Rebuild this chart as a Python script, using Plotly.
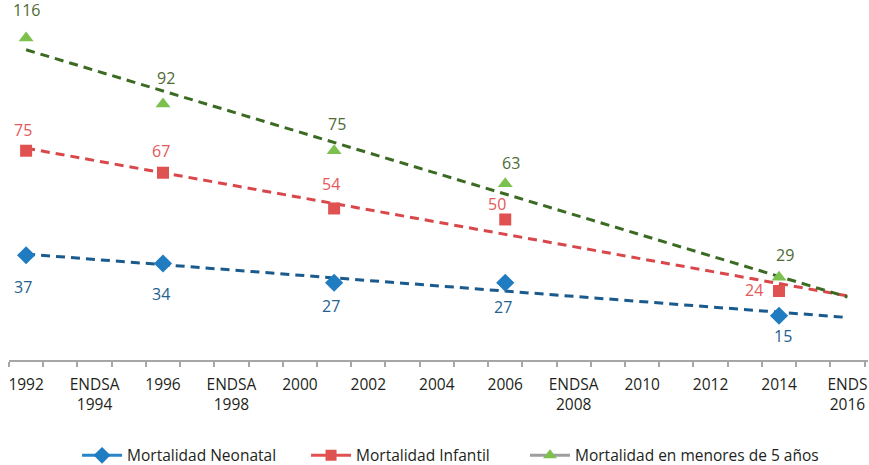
import numpy as np
import plotly.graph_objects as go

# ---- data ----
tick_years = [1992, 1994, 1996, 1998, 2000, 2002, 2004, 2006, 2008, 2010, 2012, 2014, 2016]
tick_labels = ["1992", "ENDSA<br>1994", "1996", "ENDSA<br>1998", "2000", "2002", "2004",
               "2006", "ENDSA<br>2008", "2010", "2012", "2014", "ENDS<br>2016"]
survey_years = [1992, 1996, 2001, 2006, 2014]
neonatal = [37, 34, 27, 27, 15]
infantil = [75, 67, 54, 50, 24]
menores5 = [116, 92, 75, 63, 29]
series_names = ["Mortalidad Neonatal", "Mortalidad Infantil", "Mortalidad en menores de 5 años"]

# ---- styles ----
FONT = "Open Sans, Noto Sans, sans-serif"
marker_cols = ["#1f7cc1", "#e05252", "#7cc04e"]
trend_cols = ["#1b5a8c", "#d9474b", "#3b6a22"]
label_cols = ["#245f8f", "#e5585a", "#4d6b33"]
legend_line_cols = ["#2a85c8", "#e05252", "#9e9e9e"]
symbols = ["diamond", "square", "triangle-up"]
sizes = [14, 12, 13]
legend_ids = ["legend", "legend2", "legend3"]
legend_x = [0.0792, 0.3458, 0.6007]
# label pixel offsets (dx, dy) per point
offsets = [
    [(-3, -32), (-2, -31), (-3, -23), (-2, -24), (4, -20)],
    [(-3, 21), (-2, 22), (-3, 24), (-8, 15), (-25, 1)],
    [(0, 28), (3, 26), (3, 27), (6, 21), (6, 22)],
]

fig = go.Figure()
all_series = [neonatal, infantil, menores5]
x_end = tick_years[-1]
for i, vals in enumerate(all_series):
    # linear trendline fitted to the series
    k, b = np.polyfit(survey_years, vals, 1)
    xs = [survey_years[0], x_end]
    fig.add_trace(go.Scatter(x=xs, y=[k * x + b for x in xs], mode="lines",
                             line=dict(color=trend_cols[i], width=3, dash="9px,6px"),
                             showlegend=False, hoverinfo="skip"))
for i, vals in enumerate(all_series):
    fig.add_trace(go.Scatter(x=survey_years, y=vals, mode="markers",
                             marker=dict(symbol=symbols[i], size=sizes[i], color=marker_cols[i]),
                             showlegend=False))
    for j, (xv, yv) in enumerate(zip(survey_years, vals)):
        dx, dy = offsets[i][j]
        fig.add_annotation(x=xv, y=yv, text=str(yv), showarrow=False, xshift=dx, yshift=dy,
                           font=dict(family=FONT, size=16, color=label_cols[i]))
# legend entries (one legend box per entry for exact placement)
for i in range(3):
    fig.add_trace(go.Scatter(x=[None], y=[None], mode="lines+markers", name=series_names[i],
                             legend=legend_ids[i],
                             line=dict(color=legend_line_cols[i], width=3),
                             marker=dict(symbol=symbols[i], size=sizes[i] - 1, color=marker_cols[i])))

legend_common = dict(orientation="h", xanchor="left", y=-0.266, yanchor="middle",
                     font=dict(family=FONT, size=15.5, color="#231f20"), itemwidth=40,
                     bgcolor="rgba(0,0,0,0)")

fig.update_layout(
    width=869, height=465,
    margin=dict(l=9, r=1, t=0, b=105, autoexpand=False),
    paper_bgcolor="white", plot_bgcolor="white",
    font=dict(family=FONT, size=15, color="#231f20"),
    xaxis=dict(range=[1991.5, 2016.6], tickvals=tick_years, ticktext=tick_labels,
               ticks="", showgrid=False, zeroline=False, showline=True, automargin=False,
               linecolor="#a6a6a6", linewidth=2, ticklabelstandoff=9,
               ticklabeloverflow="allow",
               tickfont=dict(family=FONT, size=15.5, color="#231f20"),
               minor=dict(ticks="outside", tick0=1991.5, dtick=1, ticklen=5,
                          tickcolor="#a6a6a6", tickwidth=2, showgrid=False)),
    yaxis=dict(range=[-1.09, 129.8], visible=False),
    legend=dict(x=legend_x[0], **legend_common),
    legend2=dict(x=legend_x[1], **legend_common),
    legend3=dict(x=legend_x[2], **legend_common),
)

fig.write_html("out.html", config={"displayModeBar": False},
               post_script="document.body.style.margin='0';document.body.style.overflow='hidden';")
